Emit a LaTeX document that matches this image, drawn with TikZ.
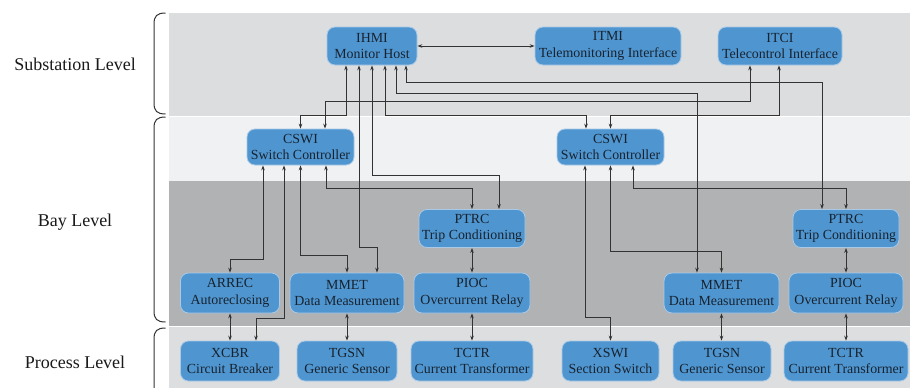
\documentclass[tikz,border=0pt]{standalone}
\usepackage{fontspec}
\setmainfont{Liberation Serif}
\usetikzlibrary{arrows.meta}

\definecolor{bandtop}{HTML}{DCDDDF}
\definecolor{bandlight}{HTML}{F0F1F3}
\definecolor{banddark}{HTML}{B1B2B4}
\definecolor{bandbottom}{HTML}{DDDEE0}
\definecolor{lnfill}{HTML}{4F96D1}
\definecolor{lnedge}{HTML}{A9C9E6}
\definecolor{lntext}{HTML}{18222E}
\definecolor{wire}{HTML}{333333}

\tikzset{
  lnbox/.style={draw=lnedge, line width=0.8pt, fill=lnfill, rounded corners=8pt,
    text=lntext, align=center, inner sep=0pt, minimum height=38pt,
    font=\fontsize{13.9}{16.7}\selectfont},
  link/.style={draw=wire, line width=0.9pt,
    {Stealth[length=5pt,width=3.6pt]}-{Stealth[length=5pt,width=3.6pt]}},
  levelbrace/.style={draw=wire, line width=1pt},
  leveltext/.style={font=\fontsize{18}{20}\selectfont, text=black!90}
}

\begin{document}
\begin{tikzpicture}[x=1pt,y=-1pt]
\useasboundingbox (0,0) rectangle (910,388);

% level bands
\fill[bandtop]    (169,13)    rectangle (910,115.5);
\fill[bandlight]  (169,116.5) rectangle (910,181);
\fill[banddark]   (169,181)   rectangle (910,325.5);
\fill[bandbottom] (169,326.5) rectangle (910,388);

% level braces and labels
\draw[levelbrace] (165.5,13) .. controls (157,13) and (154,16) .. (154,24)
  -- (154,103) .. controls (154,111) and (157,114) .. (165.5,114);
\draw[levelbrace] (165.5,117) .. controls (157,117) and (154,120) .. (154,128)
  -- (154,311) .. controls (154,319) and (157,322) .. (165.5,322);
\draw[levelbrace] (165.5,328) .. controls (157,328) and (154,331) .. (154,339)
  -- (154,388);
\node[leveltext] (lsub)  at (75,64)  {Substation Level};
\node[leveltext] (lbay)  at (75,222) {Bay Level};
\node[leveltext] (lproc) at (75,362) {Process Level};

% substation level
\node[lnbox, minimum width=90pt]  (ihmi) at (372,46) {IHMI\\Monitor Host};
\node[lnbox, minimum width=146pt] (itmi) at (608,46) {ITMI\\Telemonitoring Interface};
\node[lnbox, minimum width=124pt] (itci) at (780,46) {ITCI\\Telecontrol Interface};

% bay level
\node[lnbox, minimum width=107pt, minimum height=36pt] (cswia) at (300.5,147) {CSWI\\Switch Controller};
\node[lnbox, minimum width=107pt, minimum height=36pt] (cswib) at (610.5,147) {CSWI\\Switch Controller};
\node[lnbox, minimum width=106pt] (ptrca) at (472,228.5) {PTRC\\Trip Conditioning};
\node[lnbox, minimum width=106pt] (ptrcb) at (846,228.5) {PTRC\\Trip Conditioning};
\node[lnbox, minimum width=99pt,  minimum height=40pt] (arrec) at (230,293)   {ARREC\\Autoreclosing};
\node[lnbox, minimum width=114pt, minimum height=40pt] (mmeta) at (347,293)   {MMET\\Data Measurement};
\node[lnbox, minimum width=116pt, minimum height=40pt] (pioca) at (472,293)   {PIOC\\Overcurrent Relay};
\node[lnbox, minimum width=115pt, minimum height=40pt] (mmetb) at (721.5,293) {MMET\\Data Measurement};
\node[lnbox, minimum width=114pt, minimum height=40pt] (piocb) at (846,293)   {PIOC\\Overcurrent Relay};

% process level
\node[lnbox, minimum width=99pt,  minimum height=40pt] (xcbr)  at (230,361)   {XCBR\\Circuit Breaker};
\node[lnbox, minimum width=100pt, minimum height=40pt] (tgsna) at (347,361)   {TGSN\\Generic Sensor};
\node[lnbox, minimum width=122pt, minimum height=40pt] (tctra) at (472,361)   {TCTR\\Current Transformer};
\node[lnbox, minimum width=97pt,  minimum height=40pt] (xswi)  at (610.5,361) {XSWI\\Section Switch};
\node[lnbox, minimum width=98pt,  minimum height=40pt] (tgsnb) at (722,361)   {TGSN\\Generic Sensor};
\node[lnbox, minimum width=124pt, minimum height=40pt] (tctrb) at (846,361)   {TCTR\\Current Transformer};

% monitor host links
\draw[link] (ihmi.east) -- (itmi.west);
\draw[link] ([xshift=-26pt]ihmi.south) -- ++(0,50) -| (cswia.north);
\draw[link] ([xshift=-13pt]ihmi.south) -- ++(0,182) -| ([xshift=30pt]mmeta.north);
\draw[link] (ihmi.south) -- ++(0,110) -| ([xshift=27pt]ptrca.north);
\draw[link] ([xshift=13pt]ihmi.south) -- ++(0,50) -| ([xshift=-24.5pt]cswib.north);
\draw[link] ([xshift=24pt]ihmi.south) -- ++(0,28) -| ([xshift=-24.5pt]mmetb.north);
\draw[link] ([xshift=34pt]ihmi.south) -- ++(0,17) -| ([xshift=-24pt]ptrcb.north);

% telecontrol links
\draw[link] ([xshift=-30pt]itci.south) -- ++(0,36.5) -| ([xshift=24.5pt]cswia.north);
\draw[link] ([xshift=-1pt]itci.south) -- ++(0,50) -| (cswib.north);

% first switch controller
\draw[link] ([xshift=25.5pt]cswia.south) -- ++(0,23) -| (ptrca.north);
\draw[link] (cswia.south) -- ++(0,90) -| (mmeta.north);
\draw[link] ([xshift=-16.5pt]cswia.south) -- ++(0,153) -| ([xshift=26pt]xcbr.north);
\draw[link] ([xshift=-37.5pt]cswia.south) -- ++(0,94) -| (arrec.north);

% second switch controller
\draw[link] ([xshift=22.5pt]cswib.south) -- ++(0,23) -| (ptrcb.north);
\draw[link] (cswib.south) -- ++(0,86) -| (mmetb.north);
\draw[link] ([xshift=-25.5pt]cswib.south) -- ++(0,152) -| (xswi.north);

% vertical pairs
\draw[link] (arrec.south) -- (xcbr.north);
\draw[link] (mmeta.south) -- (tgsna.north);
\draw[link] (ptrca.south) -- (pioca.north);
\draw[link] (pioca.south) -- (tctra.north);
\draw[link] (mmetb.south) -- (mmetb.south |- tgsnb.north);
\draw[link] (ptrcb.south) -- (piocb.north);
\draw[link] (piocb.south) -- (tctrb.north);
\end{tikzpicture}
\end{document}
